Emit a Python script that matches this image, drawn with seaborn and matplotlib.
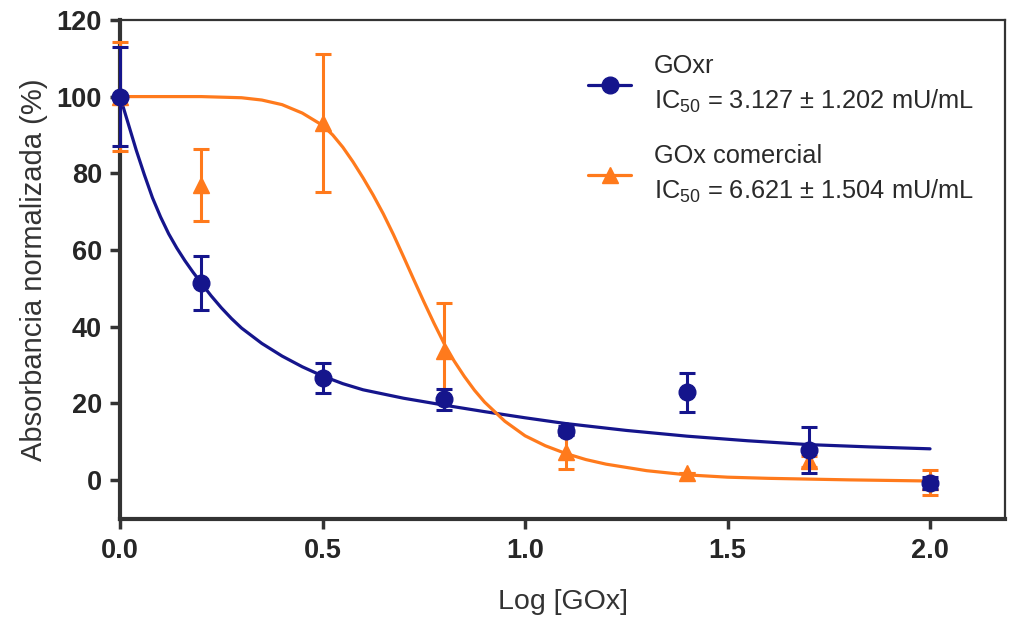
import matplotlib
matplotlib.use("Agg")
import matplotlib.pyplot as plt
from matplotlib.lines import Line2D
import pandas as pd
import seaborn as sns

# measured points (mean and error bar half-width)
log_gox = [0.0, 0.2, 0.5, 0.8, 1.1, 1.4, 1.7, 2.0]
goxr_mean = [100, 51.4, 26.6, 21.0, 12.8, 22.8, 7.8, -0.8]
goxr_err = [13.0, 7.0, 3.9, 2.8, 1.2, 5.2, 6.0, 1.5]
com_mean = [100, 77.0, 93.1, 33.5, 7.4, 1.7, 4.8, -0.6]
com_err = [14.3, 9.4, 17.9, 12.6, 4.6, 0.0, 1.5, 3.3]

# fitted curves
goxr_fit_x = [0.0, 0.02, 0.04, 0.06, 0.08, 0.1, 0.12, 0.14, 0.16, 0.18, 0.2, 0.225,
              0.25, 0.275, 0.3, 0.35, 0.4, 0.45, 0.5, 0.55, 0.6, 0.7, 0.8, 0.9, 1.0,
              1.1, 1.25, 1.4, 1.55, 1.7, 1.85, 2.0]
goxr_fit_y = [100, 93.0, 86.0, 79.6, 73.6, 68.6, 64.2, 60.5, 57.2, 54.2, 51.4, 48.0,
              44.9, 42.1, 39.6, 35.6, 32.3, 29.5, 27.1, 25.1, 23.5, 21.3, 19.5, 17.8, 16.2,
              14.7, 12.9, 11.4, 10.2, 9.2, 8.6, 8.1]
com_fit_x = [0.0, 0.1, 0.2, 0.3, 0.35, 0.4, 0.45, 0.5, 0.525, 0.55, 0.575, 0.6, 0.625,
             0.65, 0.675, 0.7, 0.725, 0.75, 0.775, 0.8, 0.825, 0.85, 0.875, 0.9, 0.95,
             1.0, 1.05, 1.1, 1.15, 1.2, 1.3, 1.4, 1.5, 1.6, 1.8, 2.0]
com_fit_y = [100, 100, 100, 99.7, 99.1, 97.9, 95.7, 92.5, 90.0, 86.8, 83.0, 78.8, 74.3,
             69.4, 64.0, 58.2, 52.3, 46.5, 40.9, 35.6, 31.0, 27.0, 23.4, 20.3, 15.3,
             11.5, 8.9, 6.9, 5.3, 4.1, 2.4, 1.3, 0.7, 0.4, 0.0, -0.3]

labels = ["GOxr\nIC$\\mathregular{_{50}}$ = 3.127 \u00b1 1.202 mU/mL",
          "GOx comercial\nIC$\\mathregular{_{50}}$ = 6.621 \u00b1 1.504 mU/mL"]
xticks = [0.0, 0.5, 1.0, 1.5, 2.0]
yticks = [0, 20, 40, 60, 80, 100, 120]

BLUE = "#15158c"
ORANGE = "#ff7a1c"

sns.set_theme(style="ticks")
plt.rcParams['font.family'] = ['Liberation Sans', 'DejaVu Sans']
plt.rcParams['mathtext.fontset'] = 'custom'
plt.rcParams['mathtext.rm'] = 'Liberation Sans'

fig = plt.figure(figsize=(10.09, 6.23), dpi=100)
ax = fig.add_axes([0.119, 0.167, 0.877, 0.801])

fits = pd.concat([
    pd.DataFrame({"x": goxr_fit_x, "y": goxr_fit_y, "s": "GOxr"}),
    pd.DataFrame({"x": com_fit_x, "y": com_fit_y, "s": "GOx comercial"}),
])
sns.lineplot(data=fits, x="x", y="y", hue="s", palette=[BLUE, ORANGE],
             linewidth=2.3, legend=False, ax=ax, zorder=2)

ax.errorbar(log_gox, com_mean, yerr=com_err, fmt="^", color=ORANGE, ms=12,
            elinewidth=2.2, capsize=6, capthick=2.2, zorder=3, clip_on=False)
ax.errorbar(log_gox, goxr_mean, yerr=goxr_err, fmt="o", color=BLUE, ms=12,
            elinewidth=2.2, capsize=6, capthick=2.2, zorder=4, clip_on=False)

ax.set_xlim(0, 2.185)
ax.set_ylim(-10.2, 120)
ax.set_xticks(xticks)
ax.set_xticklabels([f"{v:.1f}" for v in xticks], fontweight="bold", fontsize=19.5)
ax.set_yticks(yticks)
ax.set_yticklabels([str(v) for v in yticks], fontweight="bold", fontsize=19.5)
ax.tick_params(direction="out", length=7, width=2.5, color="#333333")
ax.tick_params(axis="x", pad=7)
ax.tick_params(axis="y", pad=6)

for side in ["left", "bottom"]:
    ax.spines[side].set_linewidth(3)
    ax.spines[side].set_color("#333333")
for side in ["top", "right"]:
    ax.spines[side].set_visible(True)
    ax.spines[side].set_linewidth(1.6)
    ax.spines[side].set_color("#333333")

ax.set_xlabel("Log [GOx]", fontsize=20.5, color="#333333", labelpad=18)
ax.set_ylabel("Absorbancia normalizada (%)", fontsize=21, color="#333333", labelpad=6)

handles = [Line2D([], [], color=BLUE, marker="o", ms=12, lw=2.3),
           Line2D([], [], color=ORANGE, marker="^", ms=12, lw=2.3)]
leg = fig.legend(handles, labels, loc="upper left",
                 bbox_to_anchor=(588 / 1009, 1 - 54 / 623), borderaxespad=0,
                 frameon=False, fontsize=18.3, handlelength=1.7, handletextpad=0.9,
                 labelspacing=1.15, borderpad=0, labelcolor="#2a2a2a")
for t in leg.get_texts():
    t.set_linespacing(1.45)

fig.savefig("out.png", dpi=100)
